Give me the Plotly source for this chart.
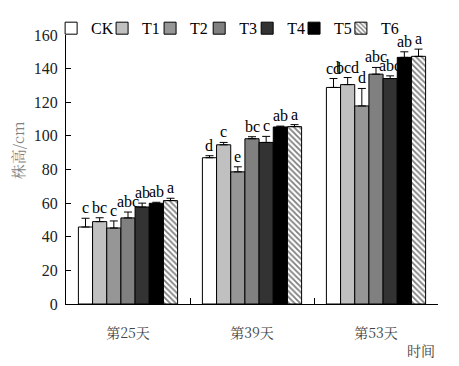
import plotly.graph_objects as go

categories = ["第25天", "第39天", "第53天"]
series_names = ["CK", "T1", "T2", "T3", "T4", "T5", "T6"]
CK = [45.8, 87.0, 128.8]
T1 = [49.0, 94.7, 130.5]
T2 = [45.2, 78.6, 117.8]
T3 = [51.2, 98.3, 136.7]
T4 = [57.7, 96.1, 134.1]
T5 = [59.9, 105.3, 146.7]
T6 = [61.5, 105.5, 147.3]
CK_err = [5.2, 1.2, 5.3]
T1_err = [2.3, 1.4, 4.2]
T2_err = [4.2, 3.0, 10.4]
T3_err = [3.5, 1.2, 4.0]
T4_err = [2.3, 3.6, 1.6]
T5_err = [0.6, 0.5, 3.3]
T6_err = [1.4, 1.2, 4.3]
CK_sig = ["c", "d", "cd"]
T1_sig = ["bc", "c", "bcd"]
T2_sig = ["c", "e", "d"]
T3_sig = ["abc", "bc", "abc"]
T4_sig = ["ab", "c", "abc"]
T5_sig = ["ab", "ab", "ab"]
T6_sig = ["a", "a", "a"]
y_ticks = [0, 20, 40, 60, 80, 100, 120, 140, 160]

values = [CK, T1, T2, T3, T4, T5, T6]
errs = [CK_err, T1_err, T2_err, T3_err, T4_err, T5_err, T6_err]
sigs = [CK_sig, T1_sig, T2_sig, T3_sig, T4_sig, T5_sig, T6_sig]
colors = ["#ffffff", "#c0c0c0", "#969696", "#808080", "#333333", "#000000", "#ffffff"]
legend_x = [-0.040, 0.097, 0.226, 0.358, 0.487, 0.613, 0.739]

FONT = "Liberation Serif"
CJK = "Noto Serif CJK SC, Noto Sans CJK SC"

fig = go.Figure()
n = len(series_names)
bargap = 0.2
for k, name in enumerate(series_names):
    marker = dict(color=colors[k], line=dict(color="black", width=1))
    if name == "T6":
        marker["pattern"] = dict(shape="\\", fgcolor="black", bgcolor="white", size=4, solidity=0.45)
    fig.add_trace(go.Bar(
        x=categories, y=values[k], name=name, marker=marker,
        legend="legend" if k == 0 else f"legend{k + 1}",
        error_y=dict(type="data", symmetric=False, array=errs[k],
                     arrayminus=[0] * len(errs[k]), color="black", thickness=1, width=4),
    ))

annotations = []
w = (1 - bargap) / n
for k in range(n):
    for i in range(len(categories)):
        xpos = i - (1 - bargap) / 2 + (k + 0.5) * w
        annotations.append(dict(
            x=xpos, y=values[k][i] + errs[k][i], xref="x", yref="y",
            text=sigs[k][i], showarrow=False, yanchor="bottom", yshift=0,
            font=dict(family=FONT, size=16, color="black"),
        ))

annotations.append(dict(x=-0.13, y=0.57, xref="paper", yref="paper", text="株高/cm",
                        textangle=-90, showarrow=False, xanchor="center", yanchor="middle",
                        font=dict(family=CJK, size=15, color="#808080")))
annotations.append(dict(x=0.996, y=-0.125, xref="paper", yref="paper", text="时间",
                        showarrow=False, yanchor="top",
                        font=dict(family=CJK, size=14, color="#444444")))

legends = {}
for k in range(n):
    key = "legend" if k == 0 else f"legend{k + 1}"
    legends[key] = dict(orientation="h", x=legend_x[k], y=1.025, xanchor="left", yanchor="middle",
                        font=dict(family=FONT, size=16, color="black"),
                        itemwidth=30, bgcolor="rgba(0,0,0,0)", borderwidth=0)

fig.update_layout(
    width=459, height=366,
    margin=dict(l=58, r=29, t=27, b=70, autoexpand=False),
    plot_bgcolor="white", paper_bgcolor="white",
    barmode="group", bargap=bargap, bargroupgap=0,
    showlegend=True,
    annotations=annotations,
    font=dict(family=FONT, color="black"),
    **legends,
)
fig.update_xaxes(
    showline=True, linecolor="black", linewidth=1,
    ticks="inside", ticklen=6, tickcolor="black", tickson="boundaries",
    tickfont=dict(family=CJK, size=14, color="#444444"),
    showgrid=False, ticklabelstandoff=16,
)
fig.update_yaxes(
    range=[0, 160], tickvals=y_ticks, showline=True, linecolor="black", linewidth=1,
    ticks="inside", ticklen=5, tickcolor="black", showgrid=False, zeroline=False,
    tickfont=dict(family=FONT, size=16, color="#222222"), ticklabelstandoff=4,
)
fig.write_html("out.html")
